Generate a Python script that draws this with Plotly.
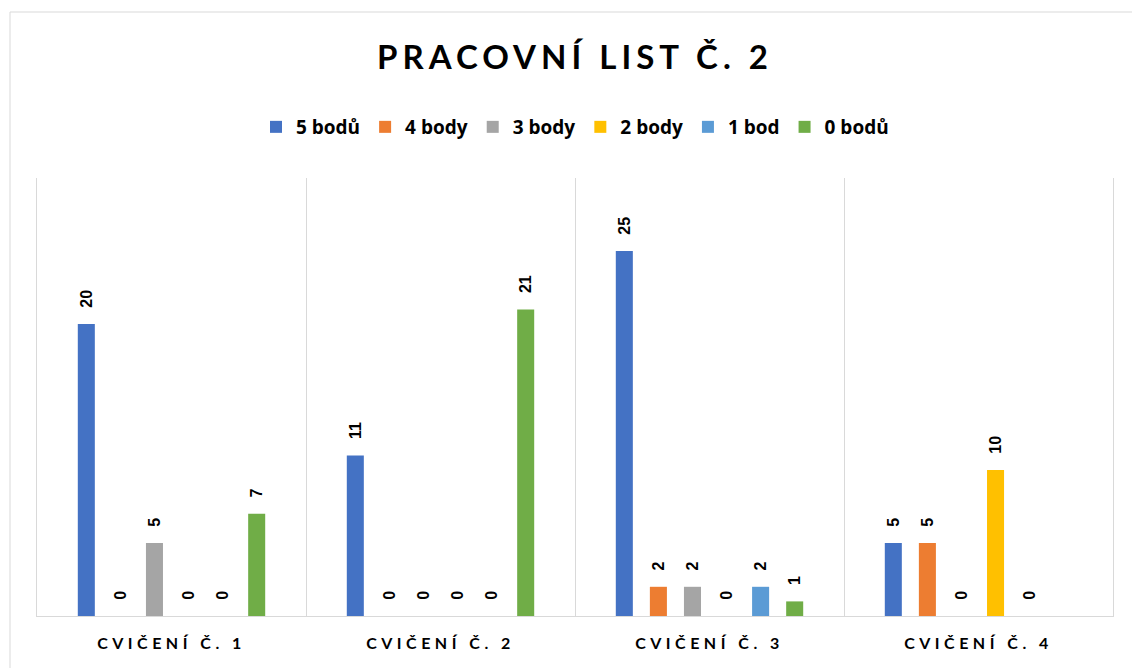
import plotly.graph_objects as go

categories = ["CVIČENÍ Č. 1", "CVIČENÍ Č. 2", "CVIČENÍ Č. 3", "CVIČENÍ Č. 4"]
series_names = ["5 bodů", "4 body", "3 body", "2 body", "1 bod", "0 bodů"]
s5 = [20, 11, 25, 5]
s4 = [0, 0, 2, 5]
s3 = [5, 0, 2, 0]
s2 = [0, 0, 0, 10]
s1 = [0, 0, 2, 0]
s0 = [7, 21, 1, None]
colors = ["#4472C4", "#ED7D31", "#A5A5A5", "#FFC000", "#5B9BD5", "#70AD47"]

W, H = 1132, 668
L, R, T, B = 37, 19, 178, 52
pw, ph = W - L - R, H - T - B

fig = go.Figure()
for name, vals, col in zip(series_names, [s5, s4, s3, s2, s1, s0], colors):
    fig.add_trace(go.Bar(
        x=categories, y=vals, name="<b>" + name + "</b>",
        marker=dict(color=col, line=dict(width=0)),
        text=[("" if v is None else "\u00a0\u00a0\u00a0<b>" + str(v) + "</b>") for v in vals],
        textposition="outside", textangle=-90, constraintext="none",
        textfont=dict(family="Liberation Sans", size=16, color="#000000"),
        cliponaxis=False,
    ))

def px_x(p):
    return (p - L) / pw

def px_y(p):
    return (H - B - p) / ph

fig.update_layout(
    width=W, height=H,
    margin=dict(l=L, r=R, t=T, b=B),
    paper_bgcolor="white", plot_bgcolor="white",
    barmode="group", bargap=0.24, bargroupgap=0.5,
    title=dict(text="<b>PRACOVNÍ LIST Č. 2</b>", x=0.5, xanchor="center", xref="paper",
               y=1 - 57 / H, yanchor="middle", yref="container",
               font=dict(family="Lato", size=33, color="#000000")),
    legend=dict(orientation="h", x=0.5, xanchor="center", y=px_y(127), yanchor="middle",
                font=dict(family="Open Sans", size=19, color="#000000"),
                itemwidth=30, tracegroupgap=0),
    font=dict(family="Lato", color="#000000"),
    showlegend=True,
)

fig.update_xaxes(
    type="category", tickson="boundaries", showgrid=True, gridcolor="#D9D9D9", gridwidth=1,
    showline=True, linecolor="#D9D9D9", linewidth=1, ticks="",
    tickfont=dict(family="Lato", size=16, color="#000000"),
    ticklabelstandoff=13,
    tickvals=categories,
    ticktext=["<b>" + c + "</b>" for c in categories],
)
fig.update_yaxes(range=[0, 30], showgrid=False, showticklabels=False, zeroline=False,
                 showline=True, mirror=True, linecolor="#D9D9D9", linewidth=1)

fig.add_shape(type="rect", xref="paper", yref="paper",
              x0=px_x(10), x1=px_x(1145), y0=px_y(680), y1=px_y(12),
              line=dict(color="#D9D9D9", width=1), fillcolor="rgba(0,0,0,0)", layer="below")

post = """
document.body.style.margin = '0';
var gd = document.getElementById('{plot_id}');
gd.querySelectorAll('.gtitle').forEach(function(e){ e.style.letterSpacing = '5px'; });
gd.querySelectorAll('.xtick text').forEach(function(e){ e.style.letterSpacing = '4.5px'; });
"""
fig.write_html("out.html", post_script=post, config={"displayModeBar": False})
